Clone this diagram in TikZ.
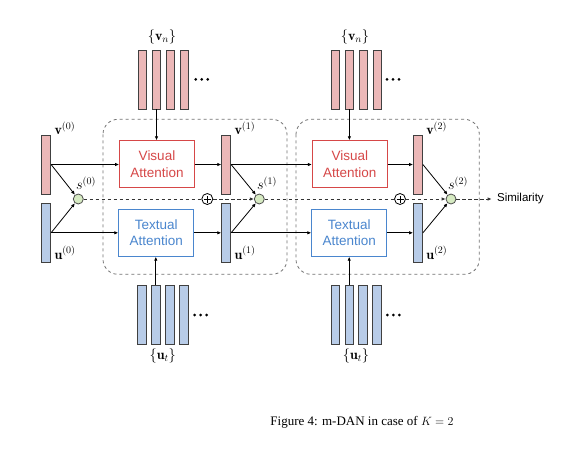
\documentclass[tikz,border=0pt]{standalone}
\usepackage{fontspec}
\newfontfamily\labfont{Liberation Sans}
\newfontfamily\capfont{Liberation Serif}
\usetikzlibrary{arrows.meta}
\definecolor{vpink}{RGB}{236,184,184}
\definecolor{ublue}{RGB}{184,204,232}
\definecolor{attred}{RGB}{214,72,72}
\definecolor{attblue}{RGB}{74,134,206}
\definecolor{sgreen}{RGB}{214,234,194}
\tikzset{every picture/.style = {x=1pt, y=-1pt, line width=0.8pt}}
\tikzset{bar/.style = {draw=black!75, minimum width=9pt, minimum height=59pt, inner sep=0}}
\tikzset{vbar/.style = {bar, fill=vpink}}
\tikzset{ubar/.style = {bar, fill=ublue}}
\tikzset{att/.style = {draw, fill=white, minimum width=75pt, minimum height=47pt,
  inner sep=0, align=center, font=\labfont\fontsize{13.5}{16.5}\selectfont}}
\tikzset{vatt/.style = {att, draw=attred, text=attred}}
\tikzset{tatt/.style = {att, draw=attblue, text=attblue}}
\tikzset{score/.style = {draw=black!70, fill=sgreen, shape=circle, minimum size=10pt, inner sep=0}}
\tikzset{plus/.style = {draw, shape=circle, minimum size=11pt, inner sep=0, fill=white,
  path picture={\draw ([xshift=-3.5pt]path picture bounding box.center)
    -- ([xshift=3.5pt]path picture bounding box.center)
    ([yshift=-3.5pt]path picture bounding box.center)
    -- ([yshift=3.5pt]path picture bounding box.center);}}}
\tikzset{lab/.style = {font=\fontsize{14}{16}\selectfont, inner sep=0}}
\tikzset{flow/.style = {-{Latex[length=4pt,width=3.5pt]}}}
\tikzset{simline/.style = {dash pattern=on 3.5pt off 2.5pt, line width=0.9pt, black!80}}
\tikzset{stage/.style = {draw=black!55, dashed, rounded corners=15pt}}

\begin{document}
\begin{tikzpicture}
  \useasboundingbox[fill=white] (0,0) rectangle (567,451);
  % the two attention stages
  \draw[stage] (103,119.3) rectangle (287,274.3);
  \draw[stage] (296,119.3) rectangle (479.3,274.3);

  % visual and textual states
  \node[vbar] (v0) at (46.2,164.5) {};
  \node[vbar] (v1) at (226.2,164.5) {};
  \node[vbar] (v2) at (418,164.5) {};
  \node[ubar] (u0) at (46.2,232.8) {};
  \node[ubar] (u1) at (226.2,232.8) {};
  \node[ubar] (u2) at (418,232.8) {};
  \node[lab, anchor=west] (v0lab) at ([xshift=3pt, yshift=6pt]v0.north east) {$\mathbf{v}^{(0)}$};
  \node[lab, anchor=west] (v1lab) at ([xshift=3pt, yshift=6pt]v1.north east) {$\mathbf{v}^{(1)}$};
  \node[lab, anchor=west] (v2lab) at ([xshift=3pt, yshift=6pt]v2.north east) {$\mathbf{v}^{(2)}$};
  \node[lab, anchor=west] (u0lab) at ([xshift=3pt, yshift=10pt]u0.south east) {$\mathbf{u}^{(0)}$};
  \node[lab, anchor=west] (u1lab) at ([xshift=3pt, yshift=10pt]u1.south east) {$\mathbf{u}^{(1)}$};
  \node[lab, anchor=west] (u2lab) at ([xshift=3pt, yshift=10pt]u2.south east) {$\mathbf{u}^{(2)}$};

  % attention blocks
  \node[vatt] (va1) at (157,164.2) {Visual\\Attention};
  \node[vatt] (va2) at (349.8,164.2) {Visual\\Attention};
  \node[tatt] (ta1) at (156.2,232.8) {Textual\\Attention};
  \node[tatt] (ta2) at (349.2,232.8) {Textual\\Attention};

  % memories {v_n} and {u_t}
  \foreach \i in {1,...,4} {
    \node[vbar, minimum width=8.5pt] (vma\i) at (128.5+14*\i,79.5) {};
    \node[vbar, minimum width=8.5pt] (vmb\i) at (321.6+13.9*\i,79.5) {};
    \node[ubar, minimum width=8.5pt] (uma\i) at (127.8+14*\i,315) {};
    \node[ubar, minimum width=8.5pt] (umb\i) at (321.6+13.8*\i,315) {};
  }
  \foreach \x in {0,6,12} {
    \fill (195.7+\x,79.3) circle (1.5);
    \fill (387+\x,79.3) circle (1.5);
    \fill (194.7+\x,315) circle (1.5);
    \fill (387.3+\x,315) circle (1.5);
  }
  \node[lab] (vmalab) at (162,37) {$\{\mathbf{v}_n\}$};
  \node[lab] (vmblab) at (355,37) {$\{\mathbf{v}_n\}$};
  \node[lab] (umalab) at (162.7,355.7) {$\{\mathbf{u}_t\}$};
  \node[lab] (umblab) at (356,355.7) {$\{\mathbf{u}_t\}$};

  % similarity scores
  \node[score] (s0) at (78.3,199) {};
  \node[score] (s1) at (259.3,199) {};
  \node[score] (s2) at (451,199) {};
  \node[plus] (p1) at (207.3,199) {};
  \node[plus] (p2) at (400,199) {};
  \node[lab] (s0lab) at (86,183) {$s^{(0)}$};
  \node[lab] (s1lab) at (267,183) {$s^{(1)}$};
  \node[lab] (s2lab) at (458,183) {$s^{(2)}$};
  \node[font=\labfont\fontsize{11.5}{13}\selectfont, anchor=west, inner sep=0] (sim) at (496.7,199) {Similarity};

  % connectors
  \draw[flow] (v0.east) -- (va1.west |- v0.east);
  \draw[flow] (va1.east |- v1.west) -- (v1.west);
  \draw[flow] (v1.east) -- (va2.west |- v1.east);
  \draw[flow] (va2.east |- v2.west) -- (v2.west);
  \draw[flow] (u0.east) -- (ta1.west |- u0.east);
  \draw[flow] (ta1.east |- u1.west) -- (u1.west);
  \draw[flow] (u1.east) -- (ta2.west |- u1.east);
  \draw[flow] (ta2.east |- u2.west) -- (u2.west);
  \draw[flow] (vma2.south) -- (vma2.south |- va1.north);
  \draw[flow] (vmb2.south) -- (vmb2.south |- va2.north);
  \draw[flow] (uma2.north) -- (uma2.north |- ta1.south);
  \draw[flow] (umb2.north) -- (umb2.north |- ta2.south);
  \draw[flow] (v0.east) -- (s0);
  \draw[flow] (u0.east) -- (s0);
  \draw[flow] (v1.east) -- (s1);
  \draw[flow] (u1.east) -- (s1);
  \draw[flow] (v2.east) -- (s2);
  \draw[flow] (u2.east) -- (s2);
  \draw[simline] (s0) -- (p1);
  \draw[simline, flow] (p1) -- (s1);
  \draw[simline] (s1) -- (p2);
  \draw[simline, flow] (p2) -- (s2);
  \draw[simline, flow] (s2) -- ([xshift=-5pt]sim.west);

  \node[font=\capfont\fontsize{13}{15}\selectfont] (cap) at (362,422)
    {Figure 4: m-DAN in case of $K = 2$};
\end{tikzpicture}
\end{document}
